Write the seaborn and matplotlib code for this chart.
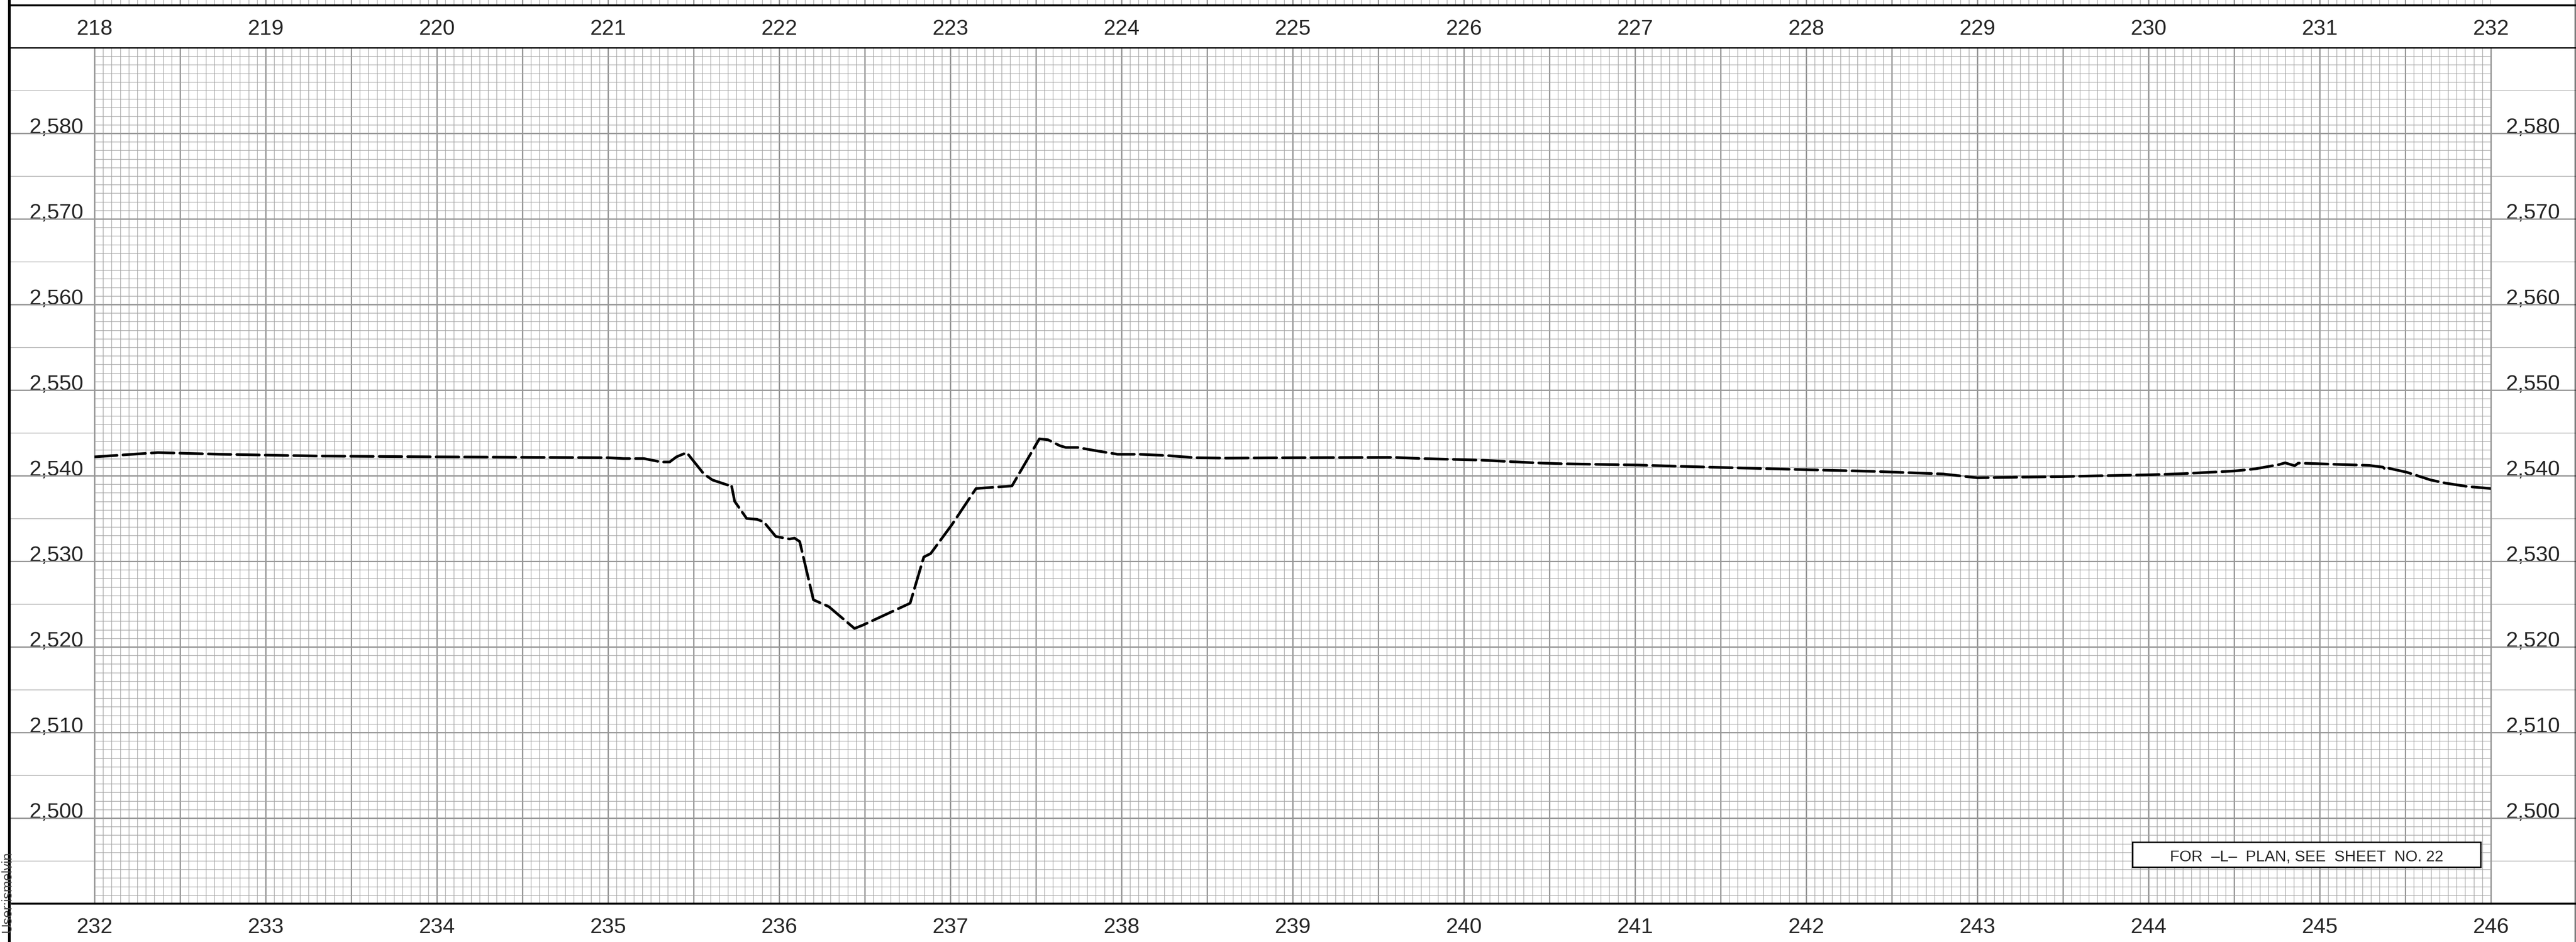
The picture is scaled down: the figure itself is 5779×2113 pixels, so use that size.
import matplotlib
matplotlib.use("Agg")
import matplotlib.pyplot as plt
from matplotlib.lines import Line2D
from matplotlib.patches import Rectangle
from matplotlib.ticker import MultipleLocator, FuncFormatter
import seaborn as sns
import pandas as pd

# ground profile: stations (top numbering) and elevations in ft
station = [218.00, 218.37, 218.74, 219.30, 220.00, 221.00, 221.09, 221.21, 221.31, 221.36,
           221.40, 221.46, 221.56, 221.61, 221.70, 221.72, 221.74, 221.81, 221.87, 221.91,
           221.98, 222.06, 222.09, 222.12, 222.20, 222.29, 222.44, 222.49, 222.765, 222.845,
           222.885, 223.01, 223.15, 223.36, 223.52, 223.57, 223.64, 223.674, 223.744, 223.826,
           223.977, 224.105, 224.267, 224.43, 224.605, 225.00, 225.26, 225.59, 225.755, 226.085,
           226.415, 226.56, 227.00, 227.43, 228.00, 228.40, 228.80, 229.00, 229.50, 230.00,
           230.207, 230.503, 230.624, 230.763, 230.798, 230.854, 230.875, 231.075, 231.29, 231.37,
           231.384, 231.396, 231.509, 231.648, 231.735, 231.865, 232.00]
elev = [2542.2, 2542.7, 2542.5, 2542.3, 2542.2, 2542.1, 2542.0, 2542.0, 2541.6, 2541.6,
        2542.2, 2542.7, 2540.2, 2539.5, 2538.9, 2539.0, 2537.0, 2535.0, 2534.9, 2534.6,
        2532.9, 2532.6, 2532.7, 2532.3, 2525.5, 2524.7, 2522.15, 2522.55, 2525.1, 2530.5,
        2530.9, 2534.3, 2538.5, 2538.8, 2544.3, 2544.2, 2543.5, 2543.3, 2543.3, 2543.0,
        2542.5, 2542.5, 2542.35, 2542.1, 2542.05, 2542.1, 2542.12, 2542.14, 2542.0, 2541.83,
        2541.5, 2541.4, 2541.25, 2541.0, 2540.7, 2540.5, 2540.2, 2539.75, 2539.9, 2540.1,
        2540.24, 2540.55, 2540.8, 2541.3, 2541.5, 2541.16, 2541.47, 2541.34, 2541.2, 2541.0,
        2540.7, 2540.9, 2540.4, 2539.5, 2539.13, 2538.73, 2538.5]

top_stations = list(range(218, 233))
bottom_stations = list(range(232, 247))
elev_labels = list(range(2500, 2590, 10))
note = "FOR  \u2013L\u2013  PLAN, SEE  SHEET  NO. 22"
user_tag = "User:ismelvin"

sns.set_style("white")
plt.rcParams["font.family"] = ["Liberation Sans", "DejaVu Sans"]
plt.rcParams["ytick.alignment"] = "baseline"

W, H, DPI = 5779, 2113, 100
GX0, GX1, GY0, GY1 = 212, 5588, 107, 2027   # grid box in pixels
fx = lambda px: px / W
fy = lambda py: 1 - py / H
MINOR_C, MAJOR_C = "#a4a4a4", "#979797"

fig = plt.figure(figsize=(W / DPI, H / DPI), dpi=DPI)
fig.patch.set_facecolor("white")
ax = fig.add_axes([fx(GX0), fy(GY1), fx(GX1) - fx(GX0), fy(GY0) - fy(GY1)])
ax.set_xlim(top_stations[0], top_stations[-1])
ax.set_ylim(2490, 2590)
ax.xaxis.set_major_locator(MultipleLocator(0.5))
ax.xaxis.set_minor_locator(MultipleLocator(0.05))
ax.yaxis.set_major_locator(MultipleLocator(10))
ax.yaxis.set_minor_locator(MultipleLocator(1))
ax.grid(which="major", color=MAJOR_C, lw=2.2)
ax.grid(which="minor", color=MINOR_C, lw=1.0)
ax.tick_params(which="both", length=0, labelbottom=False)
ax.tick_params(axis="y", labelsize=35, pad=18)
ax.yaxis.set_major_formatter(
    FuncFormatter(lambda v, p: f"{v:,.0f}" if int(round(v)) in elev_labels else ""))
for s in ax.spines.values():
    s.set_color(MAJOR_C); s.set_linewidth(2.2)

df = pd.DataFrame({"station": station, "elev": elev})
sns.lineplot(data=df, x="station", y="elev", ax=ax, sort=False, estimator=None,
             color="black", lw=4.3, linestyle=(0, (8.5, 2.2)),
             dash_capstyle="round", zorder=5, legend=False)
ax.set_xlabel(""); ax.set_ylabel("")

# right elevation labels
secy = ax.secondary_yaxis("right")
secy.set_yticks(elev_labels)
secy.set_yticklabels([f"{v:,}" for v in elev_labels])
secy.tick_params(length=0, pad=24, labelsize=35)
secy.spines["right"].set_visible(False)

# station numbering, top and bottom
shift = bottom_stations[0] - top_stations[0]
sect = ax.secondary_xaxis("top")
sect.set_xticks(top_stations)
sect.tick_params(length=0, pad=13.5, labelsize=35)
sect.spines["top"].set_visible(False)
secb = ax.secondary_xaxis("bottom", functions=(lambda s: s + shift, lambda s: s - shift))
secb.set_xticks(bottom_stations)
secb.tick_params(length=0, pad=22, labelsize=35)
secb.spines["bottom"].set_visible(False)

# 5 ft lines running into the side margins
span = GX1 - GX0
for y in range(2495, 2590, 5):
    lw = 2.2 if y % 10 == 0 else 1.0
    c = MAJOR_C if y % 10 == 0 else MINOR_C
    ax.axhline(y, xmin=(22 - GX0) / span, xmax=0, color=c, lw=lw, clip_on=False, zorder=1)
    ax.axhline(y, xmin=1, xmax=(5778 - GX0) / span, color=c, lw=lw, clip_on=False, zorder=1)

# sliver of the sheet above
ax_up = fig.add_axes([fx(GX0), fy(11), fx(GX1) - fx(GX0), fy(0) - fy(11)])
ax_up.set_xlim(ax.get_xlim())
ax_up.xaxis.set_major_locator(MultipleLocator(0.5))
ax_up.xaxis.set_minor_locator(MultipleLocator(0.05))
ax_up.grid(which="major", axis="x", color=MAJOR_C, lw=2.2)
ax_up.grid(which="minor", axis="x", color=MINOR_C, lw=1.0)
ax_up.tick_params(which="both", length=0, labelbottom=False, labelleft=False)
ax_up.set_yticks([])
for k, s in ax_up.spines.items():
    s.set_visible(k == "bottom"); s.set_color(MAJOR_C); s.set_linewidth(2.2)

# sheet frame lines
frame = [((22, 5779), (12, 12), 3.2), ((22, 5779), (107, 107), 2.2),
         ((22, 5779), (2027, 2027), 3.2), ((21, 21), (0, H), 4.3),
         ((5777, 5777), (0, H), 1.5)]
for xs, ys, lw in frame:
    fig.add_artist(Line2D([fx(xs[0]), fx(xs[1])], [fy(ys[0]), fy(ys[1])],
                          transform=fig.transFigure, color="black", lw=lw))

# note box
bx0, bx1, by0, by1 = 4784, 5565, 1889, 1945
ax.add_patch(Rectangle(((bx0 - GX0) / span, (GY1 - by1) / (GY1 - GY0)),
                       (bx1 - bx0) / span, (by1 - by0) / (GY1 - GY0),
                       transform=ax.transAxes, fc="white", ec="black", lw=2.4,
                       zorder=6, clip_on=False))
ax.text(((bx0 + bx1) / 2 - GX0) / span, (GY1 - 1931) / (GY1 - GY0), note,
        transform=ax.transAxes, ha="center", va="baseline", fontsize=25, zorder=7)

fig.text(fx(2), fy(1910), user_tag, rotation=90, ha="left", va="top",
         fontsize=22, color="#444444")

fig.savefig("out.png", dpi=DPI)
plt.close(fig)
